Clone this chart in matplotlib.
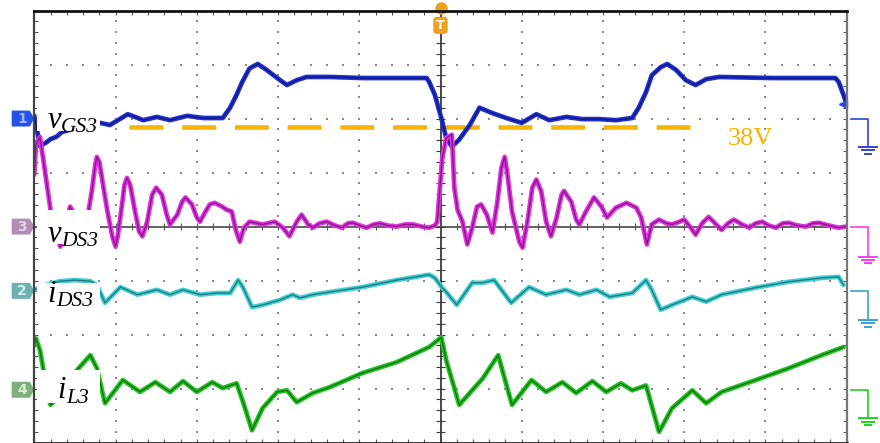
import numpy as np
import matplotlib
matplotlib.use("Agg")
import matplotlib.pyplot as plt
from matplotlib.patches import Polygon, Rectangle, FancyBboxPatch

# ---------------- data (time in screen divisions, amplitude in divisions above each channel ground) -------------
t_vgs = [0.00, 0.04, 0.07, 0.14, 0.20, 0.27, 0.34, 0.57, 0.81, 0.93, 1.03, 1.15, 1.24, 1.34, 1.51, 1.67, 1.88,
         2.08, 2.32, 2.41, 2.49, 2.56, 2.65, 2.75, 2.86, 2.99, 3.11, 3.23, 3.35, 3.64, 4.04, 4.46, 4.83, 4.86,
         4.93, 5.01, 5.07, 5.14, 5.23, 5.36, 5.48, 5.64, 5.81, 6.00, 6.18, 6.34, 6.55, 6.74, 6.95, 7.16, 7.36,
         7.44, 7.53, 7.60, 7.71, 7.79, 7.90, 8.02, 8.14, 8.27, 8.43, 9.08, 9.86, 9.90, 9.96, 9.99]
v_vgs = [0.05, -0.27, -0.51, -0.45, -0.38, -0.34, -0.25, -0.15, -0.08, -0.12, -0.03, 0.08, 0.03, -0.03, 0.03,
         -0.03, 0.05, 0.01, 0.01, 0.20, 0.44, 0.68, 0.93, 1.01, 0.90, 0.75, 0.62, 0.71, 0.77, 0.77, 0.75, 0.75,
         0.75, 0.68, 0.44, 0.01, -0.36, -0.52, -0.39, -0.12, 0.20, 0.10, 0.01, -0.08, 0.08, -0.03, 0.03, -0.01,
         -0.01, -0.03, 0.01, 0.20, 0.49, 0.80, 0.95, 1.01, 0.90, 0.71, 0.62, 0.73, 0.77, 0.75, 0.75, 0.68,
         0.44, 0.31]

t_vds = [0.00, 0.02, 0.07, 0.12, 0.20, 0.26, 0.32, 0.38, 0.44, 0.50,
         0.59, 0.66, 0.71, 0.75, 0.77, 0.80, 0.84, 0.90, 0.96, 1.00,
         1.03, 1.08, 1.11, 1.14, 1.18, 1.24, 1.29, 1.33, 1.39, 1.45,
         1.50, 1.57, 1.63, 1.67, 1.76, 1.82, 1.86, 1.94, 2.00, 2.04,
         2.10, 2.16, 2.22, 2.31, 2.37, 2.43, 2.48, 2.53, 2.58, 2.65,
         2.81, 2.96, 3.06, 3.14, 3.23, 3.29, 3.37, 3.43, 3.51, 3.60,
         3.70, 3.79, 3.86, 3.92, 4.01, 4.09, 4.18, 4.25, 4.35, 4.46,
         4.56, 4.66, 4.77, 4.86, 4.93, 4.96, 5.02, 5.07, 5.14, 5.17,
         5.21, 5.27, 5.33, 5.39, 5.45, 5.50, 5.57, 5.64, 5.70, 5.75,
         5.79, 5.82, 5.88, 5.97, 6.01, 6.07, 6.13, 6.18, 6.24, 6.30,
         6.36, 6.43, 6.49, 6.52, 6.61, 6.67, 6.71, 6.79, 6.89, 6.98,
         7.05, 7.16, 7.29, 7.41, 7.47, 7.54, 7.60, 7.69, 7.78, 7.85,
         7.94, 8.00, 8.08, 8.14, 8.22, 8.30, 8.38, 8.46, 8.54, 8.61,
         8.71, 8.80, 8.88, 8.96, 9.04, 9.13, 9.21, 9.29, 9.39, 9.50,
         9.58, 9.66, 9.78, 9.90, 9.99]
v_vds = [0.96, 1.51, 1.66, 1.14, 0.31, -0.09, -0.37, -0.02, 0.37, 0.22,
         -0.06, 0.22, 0.68, 1.14, 1.29, 1.20, 0.83, 0.28, -0.18, -0.37,
         -0.15, 0.41, 0.77, 0.90, 0.77, 0.28, -0.09, -0.18, 0.09, 0.59,
         0.72, 0.59, 0.22, 0.04, 0.22, 0.46, 0.54, 0.41, 0.17, 0.09,
         0.26, 0.41, 0.44, 0.37, 0.31, 0.28, -0.06, -0.28, -0.02, 0.09,
         0.04, 0.09, -0.02, -0.18, 0.09, 0.22, 0.04, -0.02, 0.06, 0.09,
         0.02, -0.02, 0.06, 0.07, 0.02, -0.02, 0.04, 0.06, 0.02, 0.00,
         0.04, 0.04, 0.00, -0.02, 0.02, 0.09, 1.24, 1.64, 1.70, 0.72,
         0.31, 0.09, -0.33, -0.02, 0.37, 0.41, 0.22, -0.11, 0.46, 1.09,
         1.29, 1.01, 0.28, -0.28, -0.39, 0.09, 0.72, 0.87, 0.65, 0.09,
         -0.18, 0.17, 0.59, 0.66, 0.46, 0.13, 0.04, 0.28, 0.54, 0.37,
         0.17, 0.35, 0.44, 0.35, 0.17, -0.33, 0.04, 0.13, 0.06, 0.04,
         0.09, 0.13, -0.02, -0.15, 0.06, 0.18, 0.06, -0.06, 0.06, 0.13,
         0.04, -0.02, 0.06, 0.09, 0.02, -0.02, 0.06, 0.07, 0.02, 0.00,
         0.06, 0.07, 0.02, -0.02, 0.00]

t_ids = [0.00, 0.14, 0.32, 0.50, 0.69, 0.77, 0.81, 0.87, 1.06, 1.27, 1.51, 1.67, 1.83, 2.04, 2.25, 2.41, 2.51,
         2.57, 2.68, 2.81, 3.02, 3.18, 3.27, 3.43, 3.64, 4.04, 4.46, 4.86, 4.93, 5.02, 5.07, 5.20, 5.39, 5.52,
         5.66, 5.87, 6.09, 6.30, 6.55, 6.71, 6.92, 7.08, 7.36, 7.53, 7.60, 7.71, 7.85, 8.10, 8.27, 8.46, 8.88,
         9.29, 9.69, 9.90, 9.96]
v_ids = [0.02, 0.11, 0.18, 0.20, 0.18, 0.11, -0.02, -0.22, 0.07, -0.07, 0.02, -0.07, 0.02, -0.07, -0.04, -0.04,
         0.20, 0.06, -0.30, -0.26, -0.17, -0.07, -0.13, -0.07, -0.02, 0.07, 0.20, 0.30, 0.24, 0.06, -0.02,
         -0.26, 0.15, 0.15, 0.20, -0.22, 0.07, -0.07, 0.02, -0.07, 0.02, -0.11, -0.04, 0.20, 0.02, -0.35,
         -0.26, -0.11, -0.20, -0.07, 0.06, 0.17, 0.24, 0.26, 0.11]

t_il = [0.00, 0.02, 0.07, 0.11, 0.16, 0.20, 0.26, 0.38, 0.50, 0.57, 0.69, 0.77, 0.81, 0.87, 1.09, 1.30, 1.49,
        1.67, 1.83, 2.00, 2.19, 2.32, 2.49, 2.57, 2.68, 2.81, 2.99, 3.11, 3.23, 3.43, 3.64, 4.04, 4.46, 4.86,
        4.96, 5.01, 5.07, 5.23, 5.52, 5.71, 5.88, 6.12, 6.30, 6.50, 6.67, 6.87, 7.04, 7.22, 7.36, 7.53, 7.69,
        7.85, 8.10, 8.27, 8.46, 8.88, 9.29, 9.69, 9.96]
v_il = [0.82, 0.95, 0.73, 0.39, -0.10, -0.28, -0.19, 0.08, 0.32, 0.44, 0.64, 0.40, 0.14, -0.25, 0.18, -0.04,
        0.14, -0.04, 0.16, -0.04, 0.14, 0.03, 0.12, -0.23, -0.75, -0.34, -0.04, -0.01, -0.23, -0.06, 0.05,
        0.31, 0.51, 0.79, 0.91, 0.97, 0.55, -0.28, 0.21, 0.64, -0.28, 0.18, -0.04, 0.14, -0.06, 0.16, -0.04,
        0.12, -0.01, 0.08, -0.78, -0.34, -0.01, -0.25, -0.04, 0.18, 0.40, 0.64, 0.79]

channel_names = ["1", "3", "2", "4"]
channel_symbols = ["v", "v", "i", "i"]
channel_subscripts = ["GS3", "DS3", "DS3", "L3"]
channel_ground = [2.0, 0.0, -1.19, -3.02]          # ground marker levels (screen divisions)
ref_label = "38V"
ref_level = 1.85                                    # 38 V reference (screen divisions)
ref_span = [1.17, 8.12]

# ---------------- styling ----------------
trace_outer = ["#2233cc", "#e030e0", "#3fd0d6", "#22c422"]
trace_inner = ["#0a0a78", "#6a106a", "#1d5c5c", "#0e540e"]
marker_fill = ["#2452e6", "#b48cb4", "#6fb0b0", "#7fae7f"]
marker_text = ["#9fb4ff", "#e8d0e8", "#d8f0f0", "#d8f0d8"]
ground_col = ["#3344cc", "#f040f0", "#35a2d6", "#22d022"]
orange = "#f7b500"
serif = "Liberation Serif"

fig = plt.figure(figsize=(8.8, 4.43), dpi=100)
L, R, T, B = 34.3, 846.7, 10.5, 442.7
ax = fig.add_axes([L / 880, 1 - B / 443, (R - L) / 880, (B - T) / 443])
ax.set_xlim(0, 10)
ax.set_ylim(-4, 4)

# dotted graticule
fine_y = np.arange(-4, 4.001, 0.2)
fine_x = np.arange(0, 10.001, 0.2)
for k in [1, 2, 3, 4, 6, 7, 8, 9]:
    ax.scatter(np.full_like(fine_y, k), fine_y, s=2.2, marker="s", color="#8a8a8a", lw=0, zorder=1)
for j in [-3, -2, -1, 1, 2, 3]:
    ax.scatter(fine_x, np.full_like(fine_x, j), s=2.2, marker="s", color="#8a8a8a", lw=0, zorder=1)

# centre cross-hair with ticks
ax.axvline(5, color="#3a3a3a", lw=1.3, zorder=2)
ax.axhline(0, color="#555555", lw=1.3, zorder=2)
ax.vlines(fine_x, -0.07, 0.07, color="#555555", lw=0.8, zorder=2)
ax.hlines(fine_y, 4.95, 5.05, color="#3a3a3a", lw=0.8, zorder=2)

# reference 38 V dashed line
ax.plot(ref_span, [ref_level, ref_level], color=orange, lw=3.3, dashes=(7.4, 4.1),
        solid_capstyle="butt", dash_capstyle="butt", zorder=3)
ax.text(8.53, 1.51, ref_label, color=orange, fontsize=19, family=serif,
        ha="left", va="baseline", zorder=6)

# traces
series = [(t_vgs, v_vgs), (t_vds, v_vds), (t_ids, v_ids), (t_il, v_il)]
for i, (t, v) in enumerate(series):
    y = np.asarray(v) + channel_ground[i]
    ax.plot(t, y, color=trace_outer[i], lw=3.4, solid_joinstyle="round", solid_capstyle="round",
            zorder=3 + 0.1 * i)
    ax.plot(t, y, color=trace_inner[i], lw=1.0, alpha=0.75, solid_joinstyle="round", zorder=3.05 + 0.1 * i)

# white label boxes (mask the traces behind the labels)
boxes = [(1.77, 2.27), (-0.32, 0.31), (-1.69, -1.04), (-3.27, -2.66)]
for (y0, y1) in boxes:
    ax.add_patch(Rectangle((0.035, y0), 0.775, y1 - y0, facecolor="white", edgecolor="none", zorder=5))

label_pos = [(0.16, 1.82), (0.16, -0.285), (0.16, -1.40), (0.28, -3.18)]
for (x, y), sym, sub in zip(label_pos, channel_symbols, channel_subscripts):
    tm = ax.text(x, y, sym, fontsize=22, family=serif, style="italic", color="black",
                 ha="left", va="baseline", zorder=6)
    ax.annotate(sub, xy=(1, 0), xycoords=tm, xytext=(0.3, -1.6), textcoords="offset points",
                fontsize=15.5, family=serif, style="italic", color="black",
                ha="left", va="bottom", zorder=6)

# channel markers on the left
for i, g in enumerate(channel_ground):
    pts = [(-0.27, g - 0.135), (-0.06, g - 0.135), (-0.012, g), (-0.06, g + 0.135), (-0.27, g + 0.135)]
    ax.add_patch(Polygon(pts, closed=True, facecolor=marker_fill[i], edgecolor=marker_fill[i], lw=1.0,
                         joinstyle="round", clip_on=False, zorder=7))
    ax.text(-0.15, g, channel_names[i], color=marker_text[i], fontsize=10, fontweight="bold",
            ha="center", va="center", clip_on=False, zorder=8)

# ground symbols on the right
drops = [0.53, 0.56, 0.54, 0.53]
for i, g in enumerate(channel_ground):
    c = ground_col[i]
    xs = 10.26
    ax.plot([10.05, xs, xs], [g, g, g - drops[i]], color=c, lw=1.2, clip_on=False, zorder=7)
    yb = g - drops[i]
    for w, dy in [(0.11, 0.0), (0.075, 0.06), (0.04, 0.12)]:
        ax.plot([xs - w, xs + w], [yb - dy, yb - dy], color=c, lw=1.4, clip_on=False, zorder=7)

# ch1 level arrow on right edge
ax.plot([9.95], [2.27], marker="<", markersize=6, color="#2a4af0", clip_on=False, zorder=8)

# trigger marker at top
ax.plot([5], [4.05], marker="o", markersize=8, color="#f0a020", clip_on=False, zorder=8)
ax.add_patch(FancyBboxPatch((4.92, 3.58), 0.16, 0.29, boxstyle="round,pad=0.0,rounding_size=0.04",
                            facecolor="#f0a020", edgecolor="#f0a020", clip_on=False, zorder=8))
ax.text(5.0, 3.725, "T", color="white", fontsize=9, fontweight="bold", ha="center", va="center", zorder=9)

# frame ticks
ax.set_xticks(fine_x)
ax.set_yticks(fine_y)
ax.set_xticklabels([])
ax.set_yticklabels([])
ax.tick_params(direction="in", length=3.0, width=0.8, color="#555555", top=True, right=True,
               bottom=True, left=True)
for side, col, lw in [("top", "#111111", 2.0), ("bottom", "#222222", 2.0),
                      ("left", "#444444", 1.6), ("right", "#777777", 1.6)]:
    ax.spines[side].set_color(col)
    ax.spines[side].set_linewidth(lw)
    ax.spines[side].set_zorder(10)

fig.savefig("out.png", dpi=100, facecolor="white")
